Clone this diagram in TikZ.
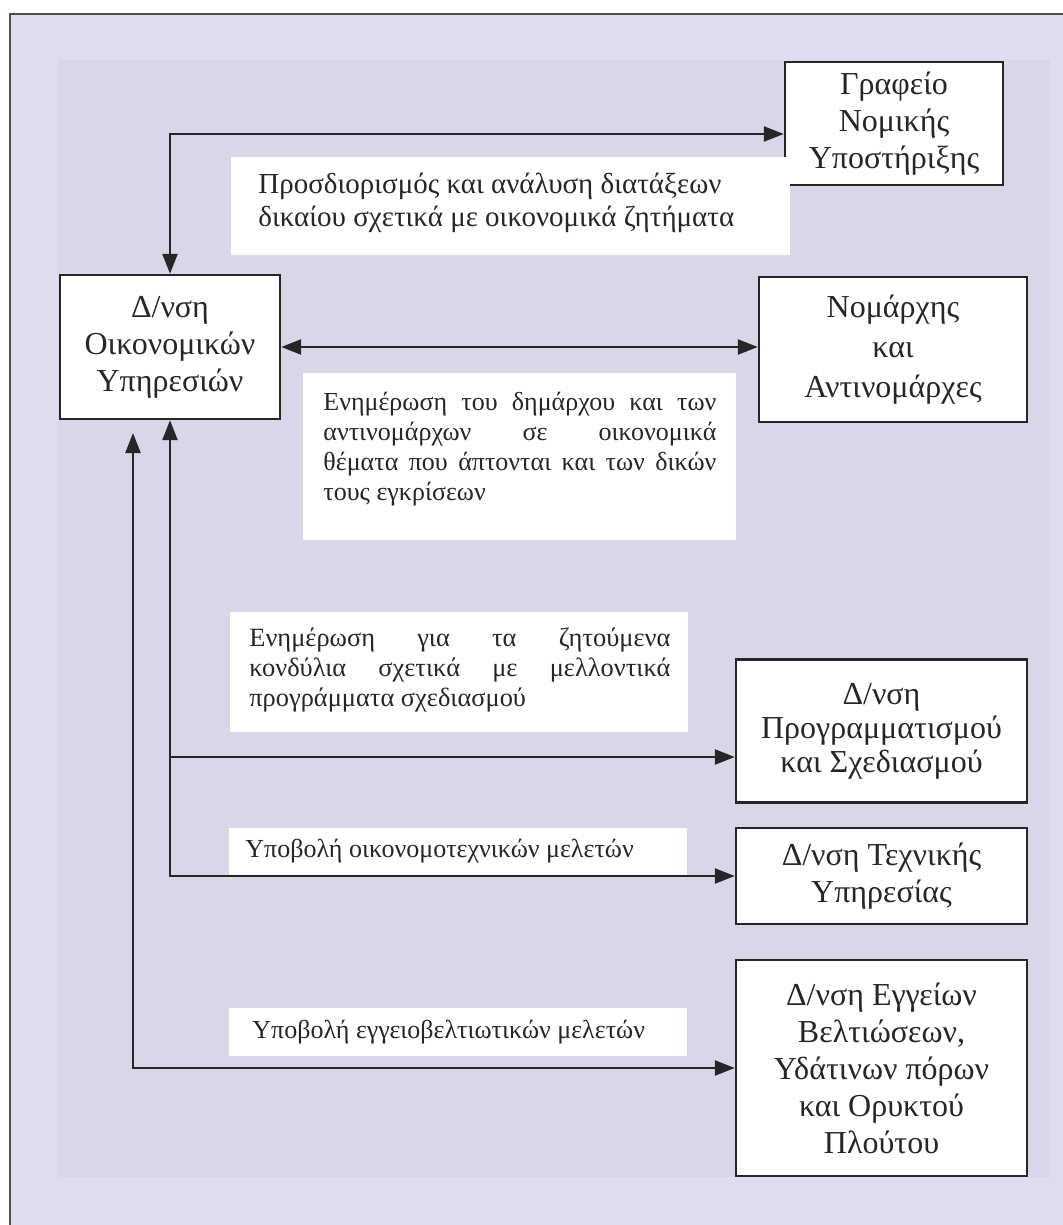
\documentclass[tikz,border=0pt]{standalone}
\usepackage{fontspec}
\setmainfont{Liberation Serif}
\usetikzlibrary{arrows.meta}
\definecolor{pagebg}{RGB}{222,220,238}
\definecolor{innerbg}{RGB}{216,215,231}
\definecolor{ink}{RGB}{38,38,40}
\definecolor{framec}{RGB}{78,78,84}
\newcommand{\jline}[2]{\makebox[#1][s]{#2}}
\tikzset{
  unitbox/.style={draw=ink, line width=1.2pt, fill=white, align=center, inner sep=2pt,
    text=ink, font=\fontsize{16}{18.5}\selectfont},
  notebox/.style={fill=white, draw=none, inner sep=0pt},
  notetext/.style={align=left, inner sep=0pt, text=ink, font=\fontsize{13}{15}\selectfont},
  link/.style={draw=ink, line width=1.2pt},
  onehead/.style={-{Triangle[length=10pt,width=7.5pt]}},
  twohead/.style={{Triangle[length=10pt,width=7.5pt]}-{Triangle[length=10pt,width=7.5pt]}},
}
\begin{document}
\begin{tikzpicture}[x=0.5pt,y=-0.5pt]
  % page and scanned panel
  \useasboundingbox (0,0) rectangle (1063,1225);
  \fill[white] (0,0) rectangle (1063,1225);
  \fill[pagebg] (10,14) rectangle (1063,1225);
  \fill[innerbg] (58,60) rectangle (1050,1177);
  \draw[framec, line width=1.2pt] (10,1225) -- (10,14) -- (1063,14);

  % units
  \node[unitbox, minimum width=109pt, minimum height=61.5pt] (legal) at (894,123.5)
    {Γραφείο\\Νομικής\\Υποστήριξης};
  \node[unitbox, minimum width=110pt, minimum height=72pt] (fin) at (170,347)
    {Δ/νση\\Οικονομικών\\Υπηρεσιών};
  \node[unitbox, minimum width=134pt, minimum height=72.5pt, font=\fontsize{16}{20}\selectfont]
    (pref) at (893,349.5) {Νομάρχης\\και\\Αντινομάρχες};
  \node[unitbox, minimum width=145.5pt, minimum height=71.5pt, font=\fontsize{16}{17}\selectfont]
    (plan) at (881.5,731) {Δ/νση\\Προγραμματισμού\\και Σχεδιασμού};
  \node[unitbox, minimum width=145.5pt, minimum height=48pt] (tech) at (881.5,876)
    {Δ/νση Τεχνικής\\Υπηρεσίας};
  \node[unitbox, minimum width=145.5pt, minimum height=108pt] (land) at (881.5,1068)
    {Δ/νση Εγγείων\\Βελτιώσεων,\\Υδάτινων πόρων\\και Ορυκτού\\Πλούτου};

  % notes on the flows
  \node[notebox, minimum width=279.5pt, minimum height=49pt] (n1) at (510.5,206) {};
  \node[notetext, anchor=west, font=\fontsize{14.5}{16.5}\selectfont] (n1t) at (258,203)
    {Προσδιορισμός και ανάλυση διατάξεων\\
     δικαίου σχετικά με οικονομικά ζητήματα};
  \node[notebox, minimum width=216.5pt, minimum height=83.5pt] (n2) at (519.5,456.5) {};
  \node[notetext, anchor=west] (n2t) at (323,449)
    {\jline{196.5pt}{Ενημέρωση του δημάρχου και των}\\
     \jline{196.5pt}{αντινομάρχων σε οικονομικά}\\
     \jline{196.5pt}{θέματα που άπτονται και των δικών}\\
     τους εγκρίσεων};
  \node[notebox, minimum width=229pt, minimum height=60pt] (n3) at (459,672) {};
  \node[notetext, anchor=west, font=\fontsize{13.2}{15}\selectfont] (n3t) at (249,670)
    {\jline{210.5pt}{Ενημέρωση για τα ζητούμενα}\\
     \jline{210.5pt}{κονδύλια σχετικά με μελλοντικά}\\
     προγράμματα σχεδιασμού};
  \node[notebox, minimum width=229pt, minimum height=23.5pt] (n4) at (458,851.5) {};
  \node[notetext, anchor=west] (n4t) at (245,851.5) {Υποβολή οικονομοτεχνικών μελετών};
  \node[notebox, minimum width=229pt, minimum height=24pt] (n5) at (458,1032) {};
  \node[notetext, anchor=west] (n5t) at (252,1032) {Υποβολή εγγειοβελτιωτικών μελετών};

  % flows
  \coordinate (legalrow) at (0,134);
  \coordinate (planrow) at (0,757);
  \coordinate (finin) at (133,433);
  \draw[link, twohead] (fin.north) |- (legal.west |- legalrow);
  \draw[link, twohead] (fin.east) -- (fin.east -| pref.west);
  \draw[link, twohead] (fin.south) |- (tech.west);
  \draw[link, onehead] (fin.south |- planrow) -- (plan.west |- planrow);
  \draw[link, twohead] (finin) |- (land.west);
\end{tikzpicture}
\end{document}
